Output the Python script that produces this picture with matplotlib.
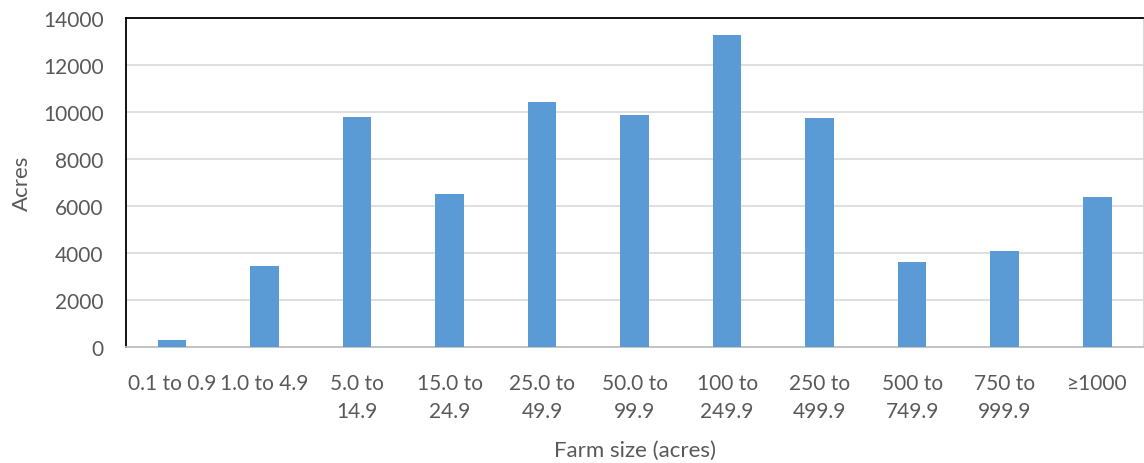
import matplotlib.pyplot as plt
import numpy as np

plt.rcParams['font.family'] = ['Lato', 'DejaVu Sans']

sizes = ['0.1 to 0.9', '1.0 to 4.9', '5.0 to\n14.9', '15.0 to\n24.9', '25.0 to\n49.9',
         '50.0 to\n99.9', '100 to\n249.9', '250 to\n499.9', '500 to\n749.9',
         '750 to\n999.9', '\u22651000']
acres = [300, 3430, 9770, 6500, 10410, 9860, 13260, 9740, 3630, 4090, 6370]
yticks = [0, 2000, 4000, 6000, 8000, 10000, 12000, 14000]

grey = '#595959'

fig, ax = plt.subplots(figsize=(11.44, 4.64), dpi=100)
fig.subplots_adjust(left=0.110, right=0.9995, top=0.959, bottom=0.25)

x = np.arange(len(sizes))
ax.bar(x, acres, width=0.31, color='#5B9BD5', zorder=3)

ax.set_xlim(-0.5, len(sizes) - 0.5)
ax.set_ylim(0, 14000)
ax.set_yticks(yticks)
ax.set_yticklabels([str(v) for v in yticks], color=grey, fontsize=15)
ax.set_xticks(x)
ax.set_xticklabels(sizes, color=grey, fontsize=15, linespacing=1.45)
ax.tick_params(axis='both', length=0)
ax.tick_params(axis='x', pad=19)
ax.tick_params(axis='y', pad=16)

ax.yaxis.grid(True, color='#D9D9D9', linewidth=1.2, zorder=0)

ax.spines['top'].set_color('black')
ax.spines['left'].set_color('black')
ax.spines['top'].set_linewidth(1.3)
ax.spines['left'].set_linewidth(1.3)
ax.spines['right'].set_color('#D9D9D9')
ax.spines['bottom'].set_color('#BFBFBF')
ax.spines['bottom'].set_linewidth(1.3)

ax.set_xlabel('Farm size (acres)', color=grey, fontsize=16, labelpad=14)
ax.set_ylabel('Acres', color=grey, fontsize=16, labelpad=8)

plt.savefig('out.png')
